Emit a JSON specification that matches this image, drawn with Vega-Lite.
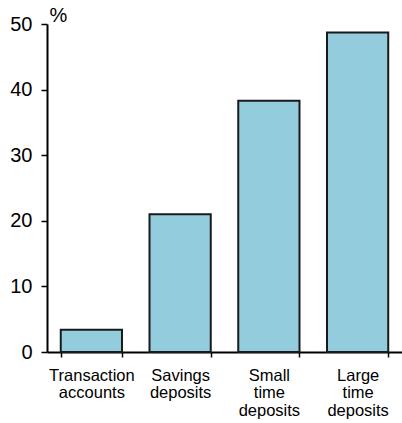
{
  "$schema": "https://vega.github.io/schema/vega-lite/v6.json",
  "width": 355,
  "height": 328,
  "autosize": "none",
  "padding": {"left": 47, "top": 24, "right": 0, "bottom": 71},
  "background": "white",
  "config": {
    "view": {"stroke": null},
    "font": "Liberation Sans"
  },
  "data": {
    "values": [
      {"category": "Transaction|accounts", "value": 3.4},
      {"category": "Savings|deposits", "value": 21.0},
      {"category": "Small|time|deposits", "value": 38.3},
      {"category": "Large|time|deposits", "value": 48.7}
    ]
  },
  "mark": {"type": "bar", "fill": "#93CDDD", "stroke": "#1a1a1a", "strokeWidth": 2},
  "encoding": {
    "x": {
      "field": "category",
      "type": "nominal",
      "sort": null,
      "scale": {"paddingInner": 0.31, "paddingOuter": 0.155},
      "axis": {
        "title": null,
        "labelAngle": 0,
        "labelExpr": "split(datum.label, '|')",
        "labelFont": "Liberation Sans",
        "labelFontSize": 16.5,
        "labelLineHeight": 17.5,
        "labelColor": "black",
        "labelPadding": 10,
        "labelLimit": 0,
        "tickBand": "extent",
        "tickSize": 5,
        "tickWidth": 1.5,
        "tickColor": "black",
        "domainColor": "black",
        "domainWidth": 2,
        "grid": false
      }
    },
    "y": {
      "field": "value",
      "type": "quantitative",
      "scale": {"domain": [0, 50], "nice": false},
      "axis": {
        "values": [0, 10, 20, 30, 40, 50],
        "title": "%",
        "titleAngle": 0,
        "titleAlign": "left",
        "titleBaseline": "alphabetic",
        "titleX": 2,
        "titleY": -3,
        "titleFont": "Liberation Sans",
        "titleFontSize": 20,
        "titleFontWeight": "normal",
        "titleColor": "black",
        "labelFont": "Liberation Sans",
        "labelFontSize": 20,
        "labelColor": "black",
        "labelPadding": 9,
        "tickSize": 6,
        "tickWidth": 1.5,
        "tickColor": "black",
        "domainColor": "black",
        "domainWidth": 2,
        "grid": false
      }
    }
  }
}
